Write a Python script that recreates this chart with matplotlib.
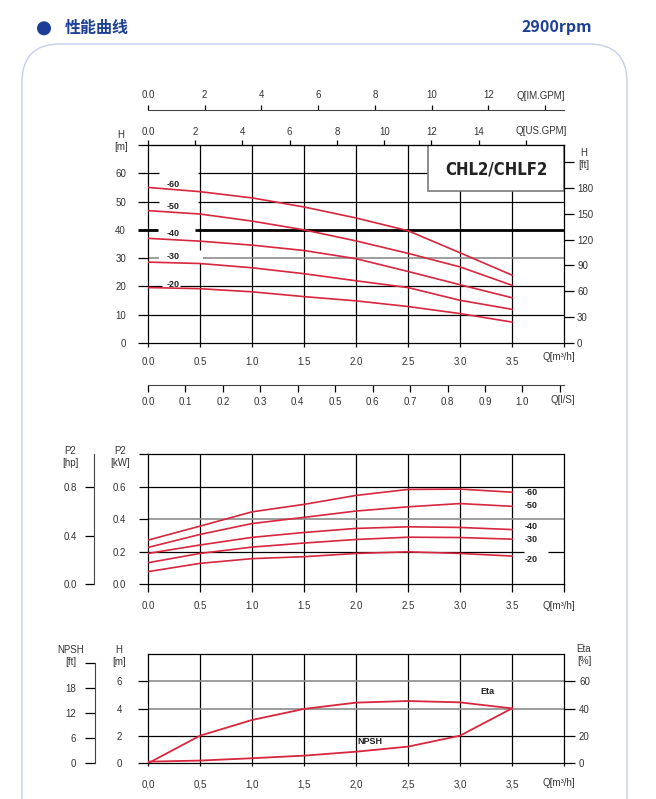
import numpy as np
import matplotlib
matplotlib.use('Agg')
import matplotlib.pyplot as plt
from matplotlib.patches import FancyBboxPatch, Circle, Rectangle

plt.rcParams['font.family'] = ['Liberation Sans', 'DejaVu Sans']

flow = [0.0, 0.5, 1.0, 1.5, 2.0, 2.5, 3.0, 3.5]          # Q [m3/h]
stages = ['-60', '-50', '-40', '-30', '-20']

head_60 = [55.0, 53.5, 51.3, 48.1, 44.2, 39.7, 31.9, 24.0]  # H [m]
head_50 = [46.8, 45.6, 43.1, 40.0, 36.1, 31.7, 26.9, 20.4]
head_40 = [37.0, 36.0, 34.6, 32.7, 29.8, 25.3, 20.6, 16.0]
head_30 = [28.6, 28.1, 26.6, 24.5, 22.0, 19.6, 15.1, 11.9]
head_20 = [19.6, 19.2, 18.1, 16.4, 14.9, 12.9, 10.4, 7.4]

power_60 = [0.270, 0.356, 0.444, 0.490, 0.545, 0.582, 0.584, 0.565]  # P2 [kW]
power_50 = [0.225, 0.305, 0.372, 0.410, 0.449, 0.475, 0.495, 0.478]
power_40 = [0.188, 0.240, 0.287, 0.317, 0.342, 0.352, 0.348, 0.335]
power_30 = [0.131, 0.188, 0.227, 0.252, 0.274, 0.288, 0.286, 0.276]
power_20 = [0.076, 0.127, 0.156, 0.168, 0.188, 0.198, 0.188, 0.172]

eta = [0.0, 20.2, 31.7, 39.8, 44.4, 45.6, 44.6, 40.2]     # [%]
npsh = [0.12, 0.20, 0.37, 0.56, 0.85, 1.22, 2.02, 4.02]   # [m]

heads = [head_60, head_50, head_40, head_30, head_20]
powers = [power_60, power_50, power_40, power_30, power_20]

q_ticks = [0.0, 0.5, 1.0, 1.5, 2.0, 2.5, 3.0, 3.5, 4.0]
q_labels = ['0.0', '0.5', '1.0', '1.5', '2.0', '2.5', '3.0', '3.5', '']
q_labels_comma = ['0,0', '0,5', '1,0', '1,5', '2,0', '2,5', '3,0', '3,5', '']
usgpm_ticks = [0, 2, 4, 6, 8, 10, 12, 14, 16]
imgpm_ticks = [0, 2, 4, 6, 8, 10, 12, 14]
ls_ticks = [0.0, 0.1, 0.2, 0.3, 0.4, 0.5, 0.6, 0.7, 0.8, 0.9, 1.0, 1.1]
h_ticks = [0, 10, 20, 30, 40, 50, 60, 70]
ft_ticks = [0, 30, 60, 90, 120, 150, 180, 210]
kw_ticks = [0.0, 0.2, 0.4, 0.6, 0.8]
hp_ticks = [0.0, 0.4, 0.8]
npsh_m_ticks = [0, 2, 4, 6]
npsh_ft_ticks = [0, 6, 12, 18, 24]
eta_ticks = [0, 20, 40, 60]

# unit conversions
USGPM = 4.4029
IMGPM = 3.6662
FT = 3.2808
HP = 1.341

RED = '#d7263d'
BLUE = '#1c3f95'
TXT = '#333333'
W, H = 656, 799


def box(x0, y0, x1, y1):
    return [x0 / W, 1 - y1 / H, (x1 - x0) / W, (y1 - y0) / H]


def pt(px):
    return px * 0.72


def hgrid(ax, y, color='k', lw=0.9, gaps=()):
    # horizontal grid line, optionally broken where labels sit
    edges = [0.0]
    for a, b in gaps:
        edges += [a, b]
    edges.append(4.0)
    for a, b in zip(edges[::2], edges[1::2]):
        ax.hlines(y, a, b, color=color, lw=lw, zorder=1)


def style_axes(ax):
    ax.set_facecolor('none')
    for s in ax.spines.values():
        s.set_linewidth(0.9)
        s.set_color('k')
    ax.tick_params(labelsize=7, labelcolor=TXT, width=0.9, color='k')


fig = plt.figure(figsize=(W / 100, H / 100), dpi=100)

# background: header + rounded panel, in pixel coordinates
bg = fig.add_axes([0, 0, 1, 1], zorder=-1)
bg.set_xlim(0, W)
bg.set_ylim(H, 0)
bg.axis('off')
bg.add_patch(FancyBboxPatch((22, 44), 605, 820, boxstyle='round,pad=0,rounding_size=38',
                            fc='white', ec='#c6cfea', lw=1.0))
bg.add_patch(Circle((44, 28.3), 6.3, color=BLUE))
bg.text(65, 28.5, '性能曲线', fontsize=11.5, fontweight='bold', color=BLUE,
        family=['Noto Sans CJK SC', 'DejaVu Sans'], ha='left', va='center')
bg.text(592, 27, '2900rpm', fontsize=11.5, fontweight='bold', color=BLUE,
        family=['Noto Sans CJK SC', 'DejaVu Sans'], ha='right', va='center')

small = dict(fontsize=7, color=TXT, ha='center', va='center', linespacing=1.3)
bg.text(121, 141, 'H\n[m]', **small)
bg.text(584, 159, 'H\n[ft]', **small)
bg.text(565, 96, 'Q[IM.GPM]', **dict(small, ha='right'))
bg.text(567, 131, 'Q[US.GPM]', **dict(small, ha='right'))
bg.text(575, 357, 'Q[m³/h]', **dict(small, ha='right'))
bg.text(575, 400, 'Q[l/S]', **dict(small, ha='right'))
bg.text(70, 457, 'P2\n[hp]', **small)
bg.text(120, 457, 'P2\n[kW]', **small)
bg.text(575, 606, 'Q[m³/h]', **dict(small, ha='right'))
bg.text(71, 656, 'NPSH\n[ft]', **small)
bg.text(119, 656, 'H\n[m]', **small)
bg.text(584, 655, 'Eta\n[%]', **small)
bg.text(575, 783, 'Q[m³/h]', **dict(small, ha='right'))

lab = dict(fontsize=6.5, fontweight='bold', color='#222222', va='center', ha='left', zorder=2)

# ---------------- head chart ----------------
ax = fig.add_axes(box(148, 145, 564, 343))
style_axes(ax)
ax.set_xlim(0, 4)
ax.set_ylim(0, 70)
for q in q_ticks[1:-1]:
    if q == 0.5:
        ax.vlines(q, 0, 28.2, color='k', lw=0.9, zorder=1)
        ax.vlines(q, 32.8, 70, color='k', lw=0.9, zorder=1)
    else:
        ax.axvline(q, color='k', lw=0.9, zorder=1)
hgrid(ax, 10)
hgrid(ax, 20, gaps=[(0.13, 0.31)])
hgrid(ax, 30, color='#8c8c8c', lw=1.2, gaps=[(0.11, 0.53)])
hgrid(ax, 40, lw=2.0, gaps=[(0.10, 0.45)])
hgrid(ax, 50, gaps=[(0.11, 0.48)])
hgrid(ax, 60, gaps=[(0.11, 0.48)])
for h, name in zip(heads, stages):
    ax.plot(flow, h, color=RED, lw=1.2, zorder=3)
for name, y in zip(stages, [56.1, 48.2, 38.8, 30.5, 20.8]):
    ax.text(0.18, y, name, **lab)

ax.add_patch(Rectangle((2.69, 53.7), 1.31, 16.3, fc='white', ec='#7a7a7a', lw=1.2, zorder=2.5))
ax.text(3.345, 61.2, 'CHL2/CHLF2', fontsize=12, fontweight='bold', fontstretch='condensed',
        family='DejaVu Sans', color='#222222', ha='center', va='center', zorder=4)

ax.set_xticks(q_ticks, q_labels)
ax.tick_params(axis='x', length=pt(4), pad=pt(10))
ax.set_yticks(h_ticks, [str(v) for v in h_ticks[:-1]] + [''])
ax.tick_params(axis='y', length=pt(10), pad=pt(12))
ax.yaxis.get_major_ticks()[4].tick1line.set_markeredgewidth(2.0)

ft_ax = ax.secondary_yaxis('right', functions=(lambda m: m * FT, lambda f: f / FT))
ft_ax.set_ticks(ft_ticks, [str(v) for v in ft_ticks[:-1]] + [''])
ft_ax.tick_params(length=pt(10), pad=pt(3), labelsize=7, labelcolor=TXT, width=0.9)
ft_ax.spines['right'].set_visible(False)

us_ax = ax.secondary_xaxis('top', functions=(lambda q: q * USGPM, lambda g: g / USGPM))
us_ax.set_ticks(usgpm_ticks, ['0.0'] + [str(v) for v in usgpm_ticks[1:-1]] + [''])
us_ax.tick_params(length=pt(5), pad=pt(3), labelsize=7, labelcolor=TXT, width=0.9)

im_ax = ax.secondary_xaxis(1.177, functions=(lambda q: q * IMGPM, lambda g: g / IMGPM))
im_ax.set_ticks(imgpm_ticks, ['0.0'] + [str(v) for v in imgpm_ticks[1:-1]] + [''])
im_ax.tick_params(length=pt(5), pad=pt(5), labelsize=7, labelcolor=TXT, width=0.9)
im_ax.spines['top'].set_color('#444444')

ls_ax = ax.secondary_xaxis(-0.212, functions=(lambda q: q / 3.6, lambda l: l * 3.6))
ls_ax.set_ticks(ls_ticks, [f'{v:.1f}' for v in ls_ticks[:-1]] + [''])
ls_ax.tick_params(length=pt(7), pad=pt(5), labelsize=7, labelcolor=TXT, width=0.9)
ls_ax.spines['bottom'].set_color('#444444')

# ---------------- power chart ----------------
ax2 = fig.add_axes(box(148, 454, 564, 584))
style_axes(ax2)
ax2.set_xlim(0, 4)
ax2.set_ylim(0, 0.8)
for q in q_ticks[1:-1]:
    ax2.axvline(q, color='k', lw=0.9, zorder=1)
hgrid(ax2, 0.2, gaps=[(3.62, 3.85)])
hgrid(ax2, 0.4, color='#8c8c8c', lw=1.2)
hgrid(ax2, 0.6)
for p in powers:
    ax2.plot(flow, p, color=RED, lw=1.2, zorder=3)
for name, y in zip(stages, [0.561, 0.480, 0.354, 0.274, 0.153]):
    ax2.text(3.62, y, name, **lab)
ax2.set_xticks(q_ticks, q_labels)
ax2.tick_params(axis='x', length=pt(8), pad=pt(9))
ax2.set_yticks(kw_ticks, [f'{v:.1f}' for v in kw_ticks[:-1]] + [''])
ax2.tick_params(axis='y', length=pt(9), pad=pt(13))

hp_ax = ax2.secondary_yaxis(-0.13, functions=(lambda k: k * HP, lambda h: h / HP))
hp_ax.set_ticks(hp_ticks, [f'{v:.1f}' for v in hp_ticks])
hp_ax.tick_params(length=pt(9), pad=pt(8), labelsize=7, labelcolor=TXT, width=0.9)
hp_ax.spines['left'].set_color('#444444')

# ---------------- NPSH / efficiency chart ----------------
ax3 = fig.add_axes(box(148, 654, 564, 763.3))
style_axes(ax3)
ax3.set_xlim(0, 4)
ax3.set_ylim(0, 8)
for q in q_ticks[1:-1]:
    ax3.axvline(q, color='k', lw=0.9, zorder=1)
hgrid(ax3, 2)
hgrid(ax3, 4, color='#8c8c8c', lw=1.2)
hgrid(ax3, 6, color='#8c8c8c', lw=1.2)
ax3.plot(flow, [e / 10 for e in eta], color=RED, lw=1.3, zorder=3)
ax3.plot(flow, npsh, color=RED, lw=1.3, zorder=3)
ax3.text(3.26, 5.24, 'Eta', **dict(lab, ha='center'))
ax3.text(2.13, 1.56, 'NPSH', **dict(lab, ha='center'))
ax3.set_xticks(q_ticks, q_labels_comma)
ax3.tick_params(axis='x', length=pt(3), pad=pt(13))
ax3.set_yticks(npsh_m_ticks, [str(v) for v in npsh_m_ticks])
ax3.tick_params(axis='y', length=pt(10), pad=pt(16))

npft_ax = ax3.secondary_yaxis(-0.127, functions=(lambda m: m * FT, lambda f: f / FT))
npft_ax.set_ticks(npsh_ft_ticks, [str(v) for v in npsh_ft_ticks[:-1]] + [''])
npft_ax.tick_params(length=pt(10), pad=pt(9), labelsize=7, labelcolor=TXT, width=0.9)
npft_ax.spines['left'].set_bounds(0, 24)
npft_ax.spines['left'].set_color('#444444')

eta_ax = ax3.secondary_yaxis('right', functions=(lambda m: m * 10, lambda e: e / 10))
eta_ax.set_ticks(eta_ticks, [str(v) for v in eta_ticks])
eta_ax.tick_params(length=pt(11), pad=pt(4), labelsize=7, labelcolor=TXT, width=0.9)
eta_ax.spines['right'].set_visible(False)

fig.savefig('out.png', dpi=100, facecolor='white')
